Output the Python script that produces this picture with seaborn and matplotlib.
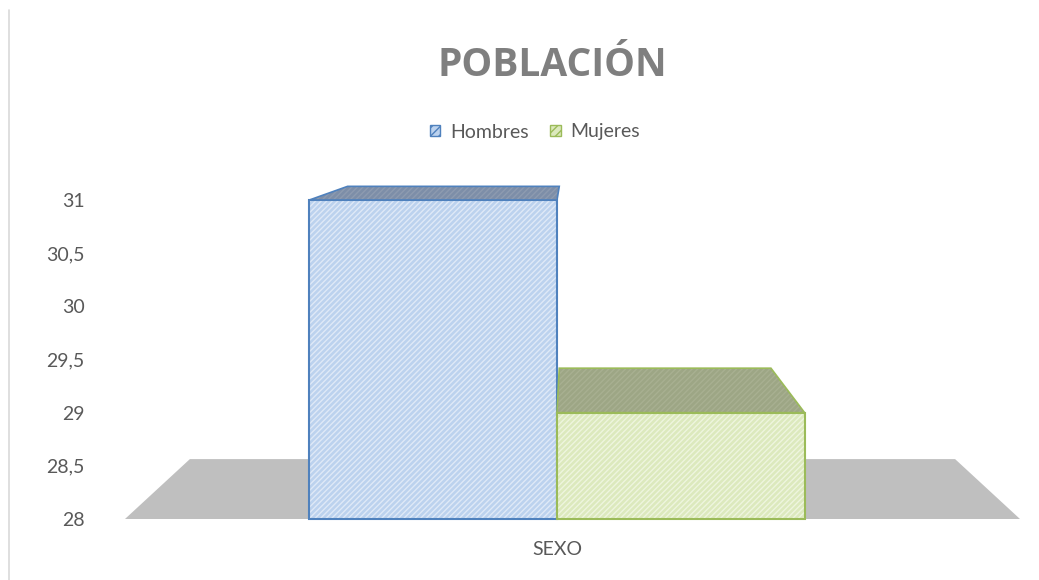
import numpy as np
import pandas as pd
import matplotlib.pyplot as plt
import seaborn as sns
from matplotlib.patches import Polygon, Patch
from matplotlib.lines import Line2D
from matplotlib.colors import to_rgba

# datos
grupos = ['Hombres', 'Mujeres']
valores = [31, 29]
categoria = 'SEXO'
yticks = [28, 28.5, 29, 29.5, 30, 30.5, 31]
ytick_labels = ['28', '28,5', '29', '29,5', '30', '30,5', '31']

df = pd.DataFrame({'sexo': [categoria] * len(grupos), 'grupo': grupos, 'valor': valores})

# estilo
sns.set_style('white')
plt.rcParams['font.family'] = ['Lato', 'DejaVu Sans']
texto = '#595959'

frente = {'Hombres': '#bcd2ee', 'Mujeres': '#dce9bd'}
rayas = {'Hombres': '#dfe9f7', 'Mujeres': '#eef5de'}
borde = {'Hombres': '#4f81bd', 'Mujeres': '#9bbb59'}
arriba = {'Hombres': '#7d8ea8', 'Mujeres': '#9da685'}

fig = plt.figure(figsize=(10.39, 5.8), dpi=100)
ax = fig.add_axes([0.1203, 0.1052, 0.8614, 0.55])

ymin, ymax = 28, 31
xlim = (-0.698, 0.748)

# perspectiva (punto de fuga y factor de profundidad)
vp = np.array([0.025, 31.884])
s = 0.855


def proj(x, y):
    p = vp + s * (np.array([x, y]) - vp)
    return tuple(p)


# suelo
floor = Polygon([(xlim[0], ymin), (xlim[1], ymin), proj(xlim[1], ymin), proj(xlim[0], ymin)],
                closed=True, facecolor='#bfbfbf', edgecolor='none', zorder=0, clip_on=False)
ax.add_patch(floor)

sns.barplot(data=df, x='sexo', y='valor', hue='grupo', hue_order=grupos,
            palette=frente, ax=ax, legend=False, zorder=2)

for bar, g, v in zip(ax.patches[1:], grupos, valores):
    bar.set_y(ymin)
    bar.set_height(v - ymin)
    bar.set_facecolor(frente[g])
    bar.set_edgecolor(borde[g])
    bar.set_linewidth(1.5)
    bar.set_hatch('//////')
    bar._hatch_color = to_rgba(rayas[g])
    bar.set_clip_on(False)
    x0 = bar.get_x()
    x1 = x0 + bar.get_width()
    top = Polygon([(x0, v), (x1, v), proj(x1, v), proj(x0, v)], closed=True,
                  facecolor=arriba[g], edgecolor=borde[g], linewidth=1.2,
                  hatch='//////', zorder=3, clip_on=False)
    top._hatch_color = to_rgba('#8d9bb0' if g == 'Hombres' else '#a8b091')
    ax.add_patch(top)

ax.set_xlim(*xlim)
ax.set_ylim(ymin, ymax)
ax.set_yticks(yticks)
ax.set_yticklabels(ytick_labels)
ax.tick_params(axis='y', length=0, pad=29, labelsize=14, labelcolor=texto)
ax.tick_params(axis='x', length=0, pad=16, labelsize=14, labelcolor=texto)
ax.set_xlabel('')
ax.set_ylabel('')
sns.despine(ax=ax, left=True, bottom=True)
ax.patch.set_alpha(0)

# titulo
fig.text(552 / 1039, 1 - 65 / 580, 'POBLACIÓN', ha='center', va='center',
         fontsize=28, fontweight='bold', color='#7f7f7f', family=['Open Sans', 'DejaVu Sans'])

# leyenda
handles = [Patch(facecolor=frente[g], edgecolor=borde[g], hatch='////', label=g) for g in grupos]
fig.legend(handles=handles, loc='center', bbox_to_anchor=(535 / 1039, 1 - 132 / 580),
           ncol=2, frameon=False, fontsize=14, handlelength=0.55, handleheight=0.55,
           handletextpad=0.5, columnspacing=1.1, labelcolor=texto)

# borde izquierdo del grafico
fig.add_artist(Line2D([0.0082, 0.0082], [0, 1 - 10 / 580], transform=fig.transFigure,
                      color='#d9d9d9', linewidth=1.2))

fig.savefig('out.png', dpi=100)
